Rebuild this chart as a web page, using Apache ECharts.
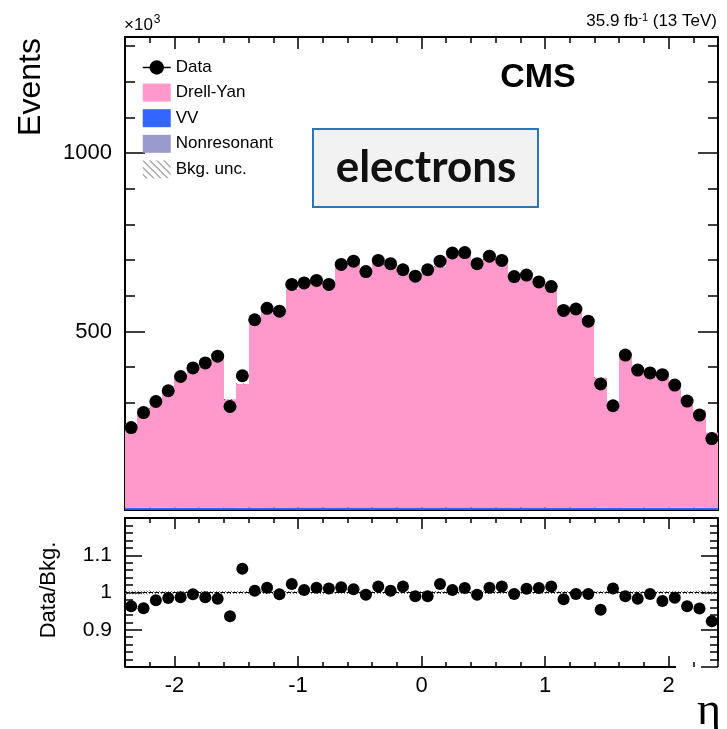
<!DOCTYPE html>
<html>
<head>
<meta charset="utf-8">
<script src="https://cdn.jsdelivr.net/npm/echarts/dist/echarts.min.js"></script>
<style>
html,body{margin:0;padding:0;background:#fff;}
#chart{width:727px;height:729px;}
</style>
</head>
<body>
<div id="chart"></div>
<script>
// ---------------- data (events in units of 10^3) ----------------
const etaBinEdges = [-2.4,-2.3,-2.2,-2.1,-2.0,-1.9,-1.8,-1.7,-1.6,-1.5,-1.4,-1.3,-1.2,-1.1,-1.0,-0.9,-0.8,-0.7,-0.6,-0.5,-0.4,-0.3,-0.2,-0.1,0.0,0.1,0.2,0.3,0.4,0.5,0.6,0.7,0.8,0.9,1.0,1.1,1.2,1.3,1.4,1.5,1.6,1.7,1.8,1.9,2.0,2.1,2.2,2.3,2.4];

const dataEvents = [231,273,304,334,374,398,412,431,290,376,533,565,557,632,636,643,632,688,697,668,699,690,673,655,673,697,720,721,690,711,699,654,658,639,626,559,563,529,353,292,434,392,384,379,350,305,266,200];

const drellYan = [234,279,305,333,373,394,411,432,304,347,524,552,554,612,626,629,619,672,685,666,682,681,656,656,674,675,709,706,688,696,682,651,645,625,610,563,559,525,364,283,432,393,380,382,349,311,272,211];

const vv = [5.1,5.3,5.4,5.5,5.6,5.6,5.7,5.7,5.2,5.4,5.8,5.9,5.9,6.0,6.0,6.1,6.0,6.1,6.1,6.1,6.1,6.1,6.0,6.0,6.0,6.0,6.1,6.1,6.1,6.1,6.1,6.0,6.0,6.0,5.9,5.9,5.8,5.8,5.4,5.2,5.7,5.7,5.6,5.6,5.5,5.4,5.3,5.1];

const nonresonant = [0.6,0.7,0.7,0.8,0.8,0.9,0.9,0.9,0.7,0.8,1.0,1.0,1.0,1.1,1.1,1.1,1.1,1.1,1.1,1.1,1.1,1.1,1.1,1.1,1.1,1.1,1.1,1.1,1.1,1.1,1.1,1.1,1.1,1.1,1.0,1.0,1.0,1.0,0.8,0.7,0.9,0.9,0.8,0.8,0.8,0.7,0.7,0.6];

const bkgRelUnc = [0.005,0.005,0.004,0.004,0.004,0.004,0.004,0.004,0.004,0.004,0.004,0.004,0.004,0.004,0.004,0.004,0.004,0.004,0.004,0.004,0.004,0.004,0.004,0.004,0.004,0.004,0.004,0.004,0.004,0.004,0.004,0.004,0.004,0.004,0.004,0.004,0.004,0.004,0.004,0.004,0.004,0.004,0.004,0.004,0.004,0.004,0.005,0.005];

const ratio = [0.963,0.958,0.979,0.985,0.987,0.995,0.987,0.983,0.936,1.064,1.005,1.013,0.995,1.023,1.007,1.013,1.011,1.014,1.009,0.994,1.016,1.005,1.016,0.990,0.990,1.023,1.007,1.012,0.994,1.013,1.016,0.996,1.010,1.012,1.016,0.982,0.996,0.996,0.954,1.011,0.990,0.983,0.996,0.977,0.986,0.963,0.957,0.923];

const mainYTicks = [500, 1000];
const ratioYTicks = [0.9, 1, 1.1];

// ---------------- helpers ----------------
const FONT = "'Liberation Sans', Arial, Helvetica, sans-serif";
const binLo = etaBinEdges.slice(0, -1);
const binHi = etaBinEdges.slice(1);
const binMid = binLo.map((lo, i) => (lo + binHi[i]) / 2);

function hatch(size, color) {
  const c = document.createElement('canvas');
  c.width = size; c.height = size;
  const g = c.getContext('2d');
  g.strokeStyle = color; g.lineWidth = 1;
  g.beginPath();
  g.moveTo(0, 0); g.lineTo(size, size);
  g.moveTo(size - 1, -1); g.lineTo(size + 1, 1);
  g.moveTo(-1, size - 1); g.lineTo(1, size + 1);
  g.stroke();
  return { image: c, repeat: 'repeat' };
}
const hatchLegend = hatch(7, '#555');
const hatchRatio = hatch(3, '#777');

function binRect(fill) {
  return function (params, api) {
    const p0 = api.coord([api.value(0), api.value(3)]);
    const p1 = api.coord([api.value(1), api.value(2)]);
    const x0 = Math.round(p0[0]), x1 = Math.round(p1[0]);
    return {
      type: 'rect',
      shape: { x: x0, y: p0[1], width: x1 - x0, height: p1[1] - p0[1] },
      style: { fill: fill }
    };
  };
}

const layers = [nonresonant, vv, drellYan];
function stackData(k) {
  return binLo.map((lo, i) => {
    let base = 0;
    for (let j = 0; j < k; j++) base += layers[j][i];
    return [lo, binHi[i], base, base + layers[k][i]];
  });
}
function totalBkg(i) { return nonresonant[i] + vv[i] + drellYan[i]; }

function histSeries(name, k, color) {
  return {
    name: name, type: 'custom', xAxisIndex: 0, yAxisIndex: 0,
    renderItem: binRect(color), itemStyle: { color: color },
    encode: { x: [0, 1], y: [2, 3] }, data: stackData(k), clip: true, silent: true, z: 2
  };
}

function xAx(grid, pos, showLabels, major, minor, showLine) {
  return {
    type: 'value', gridIndex: grid, position: pos, min: -2.4, max: 2.4, splitNumber: 5,
    axisLine: { show: showLine !== false, onZero: false, lineStyle: { color: '#000', width: 2 } },
    axisTick: { show: true, inside: true, length: major, lineStyle: { color: '#000', width: 1.5 } },
    minorTick: { show: true, splitNumber: 5, length: minor, lineStyle: { color: '#000', width: 1.5 } },
    axisLabel: { show: showLabels, showMinLabel: false, showMaxLabel: false, color: '#000',
      fontFamily: FONT, fontSize: 22, margin: 8 },
    splitLine: { show: false }, minorSplitLine: { show: false }
  };
}
function yAx(grid, pos, min, max, interval, major, minor, showLabels, ticks, fs, showLine) {
  return {
    type: 'value', gridIndex: grid, position: pos, min: min, max: max, interval: interval,
    axisLine: { show: showLine !== false, onZero: false, lineStyle: { color: '#000', width: 2 } },
    axisTick: { show: true, inside: true, length: major, lineStyle: { color: '#000', width: 1.5 } },
    minorTick: { show: true, splitNumber: 5, length: minor, lineStyle: { color: '#000', width: 1.5 } },
    axisLabel: {
      show: showLabels, color: '#000', fontFamily: FONT, fontSize: fs, margin: 13,
      showMinLabel: false, showMaxLabel: false,
      formatter: function (v) {
        for (const t of ticks) if (Math.abs(v - t) < 1e-6) return String(t);
        return '';
      }
    },
    splitLine: { show: false }, minorSplitLine: { show: false }
  };
}

const chart = echarts.init(document.getElementById('chart'), null, { renderer: 'canvas' });

const option = {
  animation: false,
  backgroundColor: '#fff',
  grid: [
    { left: 125, right: 9, top: 37, height: 473, containLabel: false },
    { left: 125, right: 9, top: 518, height: 149, containLabel: false }
  ],
  xAxis: [
    xAx(0, 'bottom', false, 12, 6),
    xAx(0, 'top', false, 12, 6),
    xAx(1, 'bottom', true, 11, 5, false),
    xAx(1, 'top', false, 11, 5)
  ],
  yAxis: [
    yAx(0, 'left', 0, 1325, 500, 20, 10, true, mainYTicks, 22),
    yAx(0, 'right', 0, 1325, 500, 20, 10, false, mainYTicks, 22),
    yAx(1, 'left', 0.8, 1.2, 0.1, 17, 8, true, ratioYTicks, 21),
    yAx(1, 'right', 0.8, 1.2, 0.1, 17, 8, false, ratioYTicks, 21, false)
  ],
  legend: {
    orient: 'vertical', left: 137, top: 54, itemWidth: 28, itemHeight: 18, itemGap: 7.6,
    textStyle: { color: '#000', fontFamily: FONT, fontSize: 17 },
    selectedMode: false,
    data: [
      { name: 'Data', lineStyle: { opacity: 1, width: 1.5, color: '#000' } },
      { name: 'Drell-Yan', icon: 'rect' },
      { name: 'VV', icon: 'rect' },
      { name: 'Nonresonant', icon: 'rect' },
      { name: 'Bkg. unc.', icon: 'rect' }
    ]
  },
  series: [
    histSeries('Nonresonant', 0, '#9999cc'),
    histSeries('VV', 1, '#3366ff'),
    histSeries('Drell-Yan', 2, '#ff99cc'),
    {
      name: 'Bkg. unc.', type: 'custom', xAxisIndex: 0, yAxisIndex: 0,
      renderItem: binRect(hatchLegend), itemStyle: { color: hatchLegend },
      encode: { x: [0, 1], y: [2, 3] }, silent: true, z: 3,
      data: binLo.map((lo, i) => [lo, binHi[i], totalBkg(i) * (1 - bkgRelUnc[i]), totalBkg(i) * (1 + bkgRelUnc[i])])
    },
    {
      name: 'Data', type: 'line', xAxisIndex: 0, yAxisIndex: 0,
      data: binMid.map((x, i) => [x, dataEvents[i]]),
      symbol: 'circle', symbolSize: 13, showSymbol: true,
      itemStyle: { color: '#000', opacity: 1 }, lineStyle: { opacity: 0, color: '#000' }, z: 10, silent: true
    },
    {
      name: 'ratioUnc', type: 'custom', xAxisIndex: 2, yAxisIndex: 2,
      renderItem: binRect(hatchRatio), itemStyle: { color: '#777' },
      encode: { x: [0, 1], y: [2, 3] }, silent: true, z: 3,
      data: binLo.map((lo, i) => [lo, binHi[i], 1 - bkgRelUnc[i], 1 + bkgRelUnc[i]]),
      markLine: {
        silent: true, symbol: 'none', label: { show: false },
        lineStyle: { type: 'dashed', color: '#000', width: 1 },
        data: [{ yAxis: 1 }]
      }
    },
    {
      name: 'ratio', type: 'scatter', xAxisIndex: 2, yAxisIndex: 2,
      data: binMid.map((x, i) => [x, ratio[i]]),
      symbol: 'circle', symbolSize: 12, itemStyle: { color: '#000', opacity: 1 }, z: 10, silent: true
    }
  ],
  graphic: [
    { type: 'text', x: 31, y: 87, rotation: Math.PI / 2,
      style: { text: 'Events', font: '32px ' + FONT, fill: '#000', textAlign: 'center', textVerticalAlign: 'middle' } },
    { type: 'text', x: 49, y: 590, rotation: Math.PI / 2,
      style: { text: 'Data/Bkg.', font: '22px ' + FONT, fill: '#000', textAlign: 'center', textVerticalAlign: 'middle' } },
    { type: 'text', x: 709, y: 712,
      style: { text: 'η', font: '46px "Liberation Serif", "DejaVu Serif", serif', fill: '#000', textAlign: 'center', textVerticalAlign: 'middle' } },
    { type: 'text', x: 124, y: 34,
      style: { text: '{a|×10}{b|3}', fill: '#000', textAlign: 'left', textVerticalAlign: 'bottom',
        rich: { a: { fontFamily: FONT, fontSize: 17, fill: '#000', verticalAlign: 'bottom' },
                b: { fontFamily: FONT, fontSize: 12, fill: '#000', verticalAlign: 'top', padding: [0, 0, 8, 1] } } } },
    { type: 'text', x: 717, y: 31,
      style: { text: '{a|35.9 fb}{b|-1}{a| (13 TeV)}', fill: '#000', textAlign: 'right', textVerticalAlign: 'bottom',
        rich: { a: { fontFamily: FONT, fontSize: 17, fill: '#000' },
                b: { fontFamily: FONT, fontSize: 11, fill: '#000', padding: [0, 0, 8, 0] } } } },
    { type: 'text', x: 538, y: 78,
      style: { text: 'CMS', font: 'bold 34px ' + FONT, fill: '#000', textAlign: 'center', textVerticalAlign: 'middle' } },
    { type: 'rect', shape: { x: 313, y: 129, width: 225, height: 78 },
      style: { fill: '#f2f2f2', stroke: '#2e75b6', lineWidth: 2 }, z: 20 },
    { type: 'text', x: 426, y: 168, z: 21,
      style: { text: 'electrons', font: 'bold 44px Lato, "Open Sans", sans-serif', fill: '#111', textAlign: 'center', textVerticalAlign: 'middle' } },
    { type: 'line', shape: { x1: 125, y1: 667, x2: 676, y2: 667 }, style: { stroke: '#000', lineWidth: 2 }, z: 20 },
    { type: 'line', shape: { x1: 718, y1: 518, x2: 718, y2: 661 }, style: { stroke: '#000', lineWidth: 2 }, z: 20 }
  ]
};
chart.setOption(option);
</script>
</body>
</html>
